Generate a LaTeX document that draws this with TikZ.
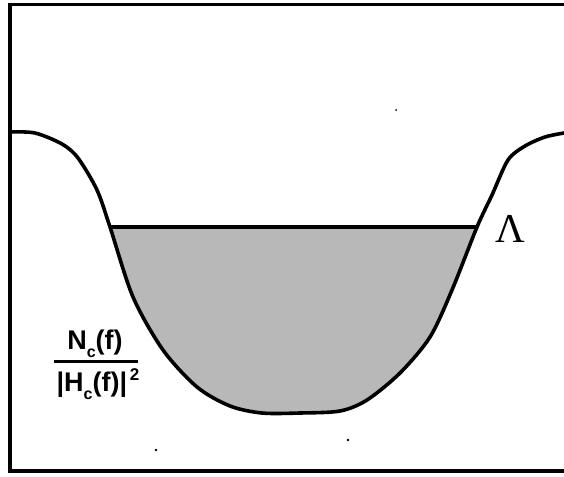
\documentclass[tikz,border=0pt]{standalone}
\usepackage{fontspec}
\newfontfamily\labelfont{Liberation Sans}
\newfontfamily\lamfont{Liberation Serif}
\usepackage{tikz}
\usetikzlibrary{positioning, calc}

\newcommand{\subc}{\raisebox{-0.32em}{\fontsize{16}{16}\selectfont c}}
\newcommand{\supii}{\raisebox{0.38em}{\fontsize{17}{17}\selectfont\,2}}

\begin{document}
\begin{tikzpicture}[x=1pt, y=-1pt,
      frame/.style={line width=3.8pt},
      curve/.style={line width=3.6pt, line join=round},
      level/.style={line width=3.6pt},
      lbl/.style={font=\labelfont\bfseries\fontsize{27}{30}\selectfont, inner sep=0pt},
      speck/.style={fill=black},
    ]
      \useasboundingbox (0,0) rectangle (564,476);

      % frame (open on the right)
      \draw[frame] (564,4.5) -- (10,4.5) -- (10,471) -- (564,471);

      % shaded part below the level
      \begin{scope}
        \clip (0,227) rectangle (564,476);
        \fill[black!28] plot[smooth, tension=0.5] coordinates {
          (10,132) (35,133) (62,144) (78,158) (97,190) (110,227) (133,297)
          (163,350) (197,387) (230,406) (262,413) (300,413) (340,411)
          (367,400) (400,373) (430,337) (452,290) (477,227) (492,195)
          (508,160) (525,146) (545,137) (564,133)} -- (564,0) -- (0,0) -- cycle;
      \end{scope}

      % spectrum curve
      \draw[curve] plot[smooth, tension=0.5] coordinates {
          (10,132) (35,133) (62,144) (78,158) (97,190) (110,227) (133,297)
          (163,350) (197,387) (230,406) (262,413) (300,413) (340,411)
          (367,400) (400,373) (430,337) (452,290) (477,227) (492,195)
          (508,160) (525,146) (545,137) (564,133)};

      % water level
      \coordinate (wl) at (110,227);
      \coordinate (wr) at (477,227);
      \draw[level] (wl) -- (wr);

      \node[font=\lamfont\fontsize{41}{44}\selectfont, inner sep=0pt, anchor=base] (lambda) at (510,242) {Λ};

      \node[lbl, anchor=base] (num) at (95,349) {N\subc(f)};
      \node[lbl, anchor=base] (den) at (98,391) {|H\subc(f)|\supii};
      \draw[line width=3pt] (54,361) -- (138,361);

      \fill[speck] (396,110) circle (1pt);
      \fill[speck] (156,450) circle (1.3pt);
      \fill[speck] (348,440) circle (1.3pt);
    \end{tikzpicture}
\end{document}
